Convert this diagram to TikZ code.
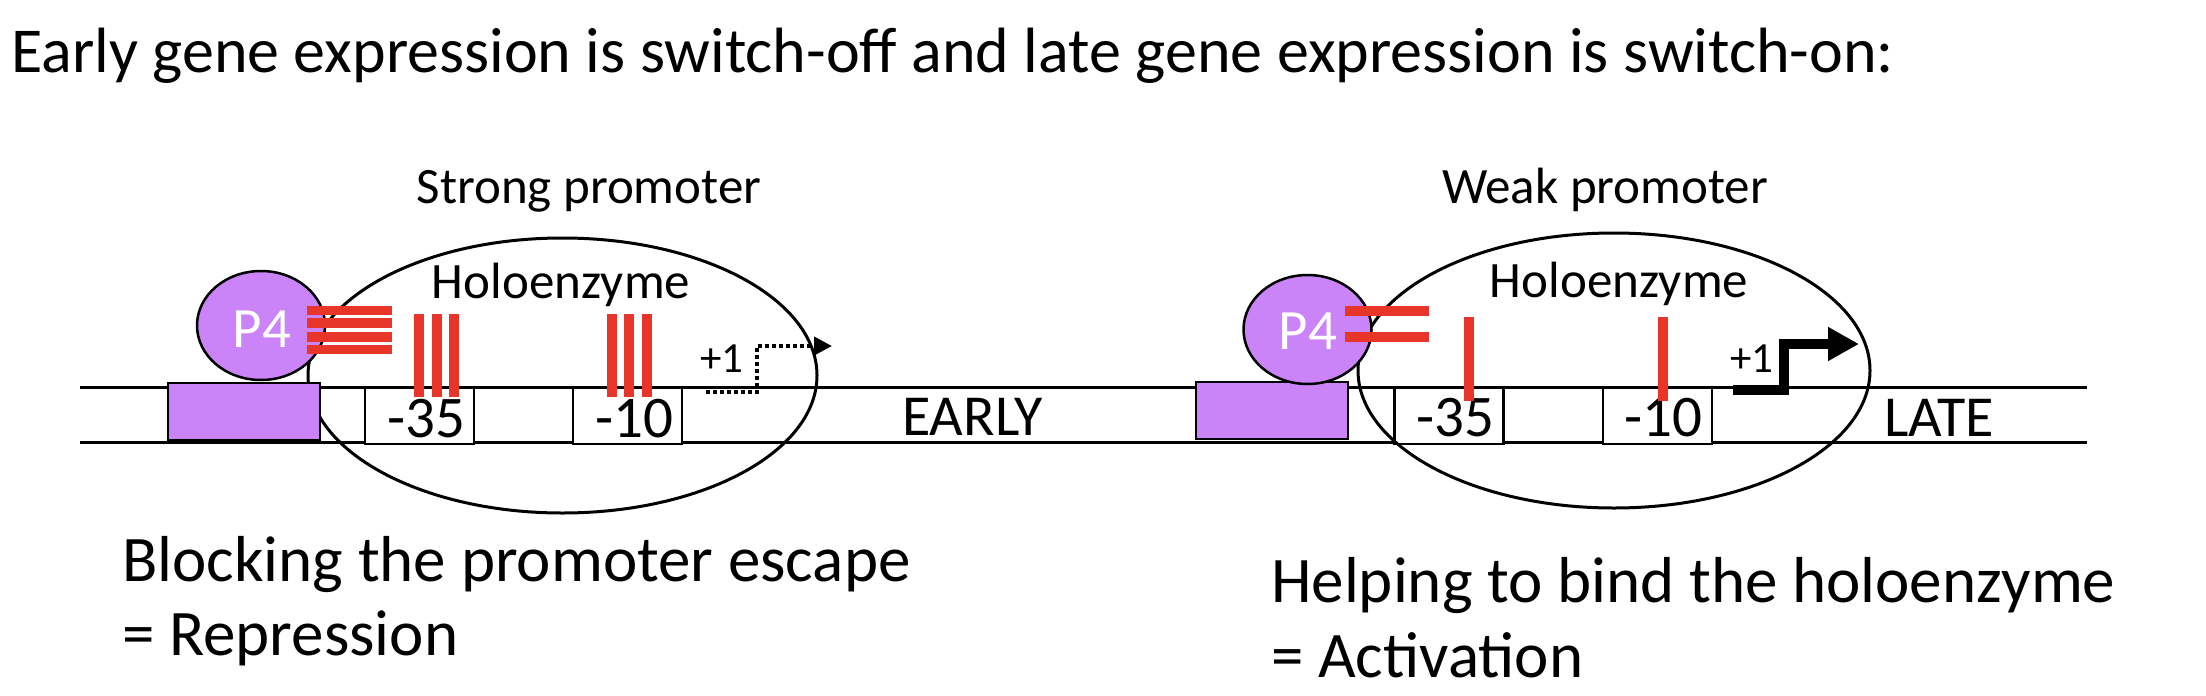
\documentclass[tikz,border=0pt]{standalone}
\usepackage{fontspec}
\setmainfont{Carlito}
\usetikzlibrary{arrows.meta,shapes.geometric}
\definecolor{pfill}{HTML}{CA84F7}
\definecolor{bred}{HTML}{E8352A}
\begin{document}
\begin{tikzpicture}[x=1pt,y=-1pt,
  dna/.style={line width=3pt},
  holo/.style={ellipse, draw, line width=3pt, inner sep=0pt},
  prot/.style={draw, line width=2.5pt, fill=pfill, inner sep=0pt},
  p4/.style={ellipse, prot, minimum width=128pt, minimum height=109pt, text=white, font=\fontsize{57}{62}\selectfont},
  base/.style={rectangle, prot, minimum width=152pt, minimum height=57pt},
  site/.style={draw, line width=2.5pt, fill=white, minimum width=109pt, minimum height=56pt, inner sep=0pt},
  sitetxt/.style={font=\fontsize{59}{64}\selectfont, anchor=base, inner sep=0pt},
  redbar/.style={draw=bred, line width=10pt},
  title/.style={font=\fontsize{64}{74}\selectfont, anchor=base west, inner sep=0pt},
  label/.style={font=\fontsize{51}{58}\selectfont, anchor=base, inner sep=0pt},
  gene/.style={font=\fontsize{58}{64}\selectfont, anchor=base west, inner sep=0pt},
  plus/.style={font=\fontsize{43}{48}\selectfont, anchor=base, inner sep=0pt},
  big/.style={font=\fontsize{65}{75}\selectfont, anchor=base west, inner sep=0pt},
  tss/.style={line width=4pt, dash pattern=on 4pt off 3pt, -{Triangle[length=18pt,width=18pt]}},
  tssbold/.style={line width=10pt, line join=miter, -{Triangle[length=31pt,width=32pt]}}
]
\useasboundingbox (0,0) rectangle (2206,696);

% title
\node[title] (ttl) at (11,72) {Early gene expression is switch-off and late gene expression is switch-on:};

% DNA double line
\coordinate (dnaTL) at (80,387);
\coordinate (dnaTR) at (2087,387);
\coordinate (dnaBL) at (80,442);
\coordinate (dnaBR) at (2087,442);
\draw[dna] (dnaTL) -- (dnaTR);
\draw[dna] (dnaBL) -- (dnaBR);

% promoter sites
\node[site] (s35a) at (419.5,416) {};
\node[site] (s10a) at (627.5,416) {};
\node[site] (s35b) at (1449,416) {};
\node[site] (s10b) at (1657.5,416) {};
\node[sitetxt] (t35a) at (426,437) {-35};
\node[sitetxt] (t10a) at (634,437) {-10};
\node[sitetxt] (t35b) at (1455,436) {-35};
\node[sitetxt] (t10b) at (1663,436) {-10};

% holoenzymes
\node[holo, minimum width=509pt, minimum height=275pt] (holoA) at (562.5,375.5) {};
\node[holo, minimum width=512pt, minimum height=275pt] (holoB) at (1614,370.5) {};

% P4 proteins
\node[base] (baseA) at (244,411.5) {};
\node[base] (baseB) at (1272,410.5) {};
\node[p4] (p4a) at (261,325.5) {};
\node[p4] (p4b) at (1307.5,329.5) {};
\node[sitetxt, font=\fontsize{57}{62}\selectfont, text=white] (p4ta) at (262,347) {P4};
\node[sitetxt, font=\fontsize{57}{62}\selectfont, text=white] (p4tb) at (1308,349) {P4};

% contacts, strong promoter
\draw[draw=bred, line width=9.5pt] (307,310.5) -- (392,310.5);
\draw[draw=bred, line width=9.5pt] (307,323) -- (392,323);
\draw[draw=bred, line width=9.5pt] (307,337) -- (392,337);
\draw[draw=bred, line width=9.5pt] (307,349.3) -- (392,349.3);
\draw[redbar] (419,314) -- (419,397);
\draw[redbar] (437,314) -- (437,397);
\draw[redbar] (454,314) -- (454,397);
\draw[redbar] (612,314) -- (612,397);
\draw[redbar] (629,314) -- (629,397);
\draw[redbar] (647,314) -- (647,397);

% contacts, weak promoter
\draw[redbar] (1345,311) -- (1429,311);
\draw[redbar] (1345,337) -- (1429,337);
\draw[redbar] (1469,317) -- (1469,401);
\draw[redbar] (1663,317) -- (1663,401);

% labels
\node[label] (lblA) at (589,203) {Strong promoter};
\node[label] (lblB) at (1605,203) {Weak promoter};
\node[label] (hA) at (561,298) {Holoenzyme};
\node[label] (hB) at (1619,297) {Holoenzyme};
\node[gene] (early) at (902,435) {EARLY};
\node[gene] (late) at (1884,436) {LATE};
\node[plus] (p1a) at (722,372) {+1};
\node[plus] (p1b) at (1752,372) {+1};

% transcription start arrows
\coordinate (tA0) at (706,392);
\coordinate (tA1) at (757,392);
\coordinate (tA2) at (757,346);
\coordinate (tA3) at (832,346);
\draw[tss] (tA0) -- (tA1) -- (tA2) -- (tA3);
\coordinate (tB0) at (1733,390);
\coordinate (tB1) at (1784,390);
\coordinate (tB2) at (1784,344);
\coordinate (tB3) at (1859,344);
\draw[tssbold] (tB0) -- (tB1) -- (tB2) -- (tB3);

% conclusions
\node[big] (cA1) at (122,581) {Blocking the promoter escape};
\node[big] (cA2) at (122,655) {= Repression};
\node[big] (cB1) at (1271,602) {Helping to bind the holoenzyme};
\node[big] (cB2) at (1271,677) {= Activation};
\end{tikzpicture}
\end{document}
